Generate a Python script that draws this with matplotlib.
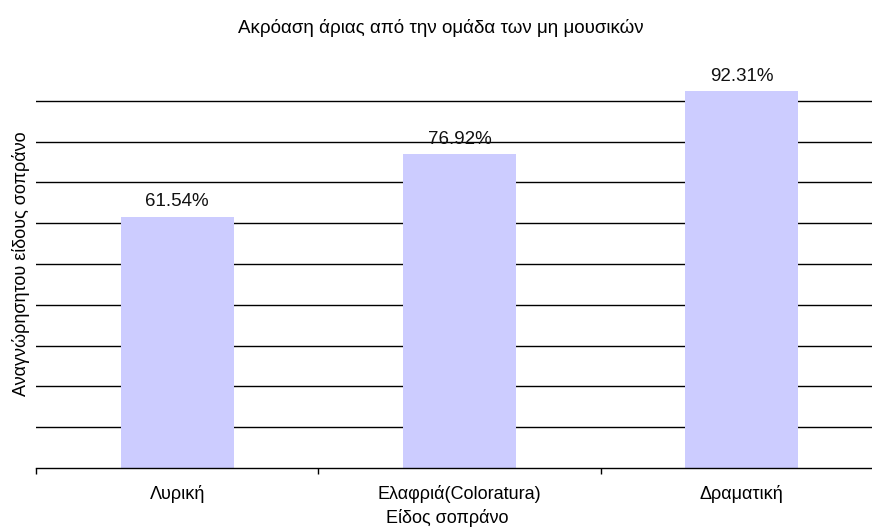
import matplotlib.pyplot as plt
from matplotlib.ticker import FixedLocator, NullLocator

plt.rcParams['font.family'] = ['Liberation Sans', 'DejaVu Sans']

categories = ['Λυρική', 'Ελαφριά(Coloratura)', 'Δραματική']
recognition = [61.54, 76.92, 92.31]
grid_levels = [10, 20, 30, 40, 50, 60, 70, 80, 90]

fig = plt.figure(figsize=(8.72, 5.28), dpi=100)
# axes runs slightly past the right edge of the figure
ax = fig.add_axes([36 / 872, 60 / 528, 847 / 872, 408 / 528])

x = list(range(len(categories)))
bars = ax.bar(x, recognition, width=0.40, color='#CCCCFF', zorder=2)

for xi, v in zip(x, recognition):
    ax.text(xi, v + 1.6, f'{v:.2f}%', ha='center', va='bottom',
            fontsize=13.5, color='#111111', zorder=3)

for g in grid_levels:
    ax.axhline(g, color='black', linewidth=1.0, zorder=1)

ax.set_xlim(-0.5, len(categories) - 0.5)
ax.set_ylim(0, 100)

for side in ('top', 'right', 'left'):
    ax.spines[side].set_visible(False)
ax.spines['bottom'].set_linewidth(1.0)

ax.yaxis.set_major_locator(NullLocator())
ax.set_xticks(x)
ax.set_xticklabels(categories, fontsize=13)
ax.tick_params(axis='x', which='major', length=0, pad=12)
ax.xaxis.set_minor_locator(FixedLocator([-0.5, 0.5, 1.5]))
ax.tick_params(axis='x', which='minor', length=4, width=1.0, direction='out')

ax.set_xlabel('Είδος σοπράνο', fontsize=13, va='center')
ax.xaxis.set_label_coords(447 / 872, 1 - 518 / 528, transform=fig.transFigure)
ax.set_ylabel('Αναγνώρησητου είδους σοπράνο', fontsize=13, labelpad=4)

fig.text(441 / 872, 1 - 28 / 528, 'Ακρόαση άριας από την ομάδα των μη μουσικών',
         ha='center', va='center', fontsize=13.5)

fig.savefig('out.png', dpi=100)
